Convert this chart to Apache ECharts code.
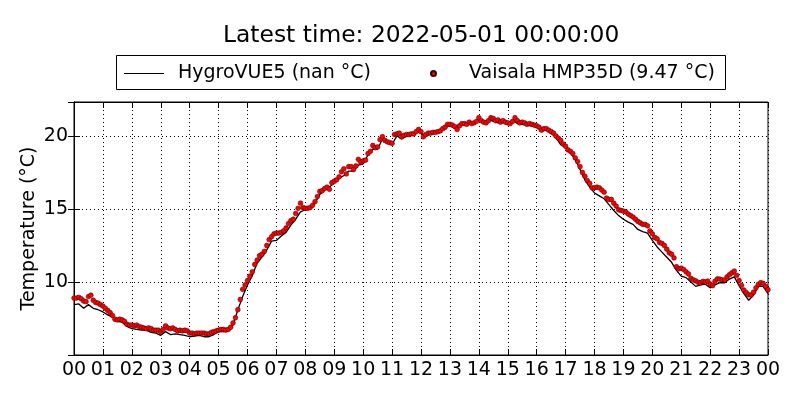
<!DOCTYPE html>
<html>
<head>
<meta charset="utf-8">
<script src="https://cdn.jsdelivr.net/npm/echarts@6/dist/echarts.min.js"></script>
<style>html,body{margin:0;padding:0;background:#fff}#c{width:800px;height:400px}</style>
</head>
<body>
<div id="c"></div>
<script>
// Vaisala HMP35D, one value every 5 minutes from 00:00 to 24:00
const vaisalaStepMin = 5;
const vaisalaTemps = [
 8.9, 8.9, 8.95, 8.85, 8.7, 8.65, 9.0, 9.1, 8.75, 8.6, 8.55, 8.45,
 8.35, 8.2, 8.05, 7.9, 7.7, 7.45, 7.4, 7.45, 7.4, 7.3, 7.1, 7.05,
 7.05, 7.0, 7.05, 6.95, 6.9, 6.85, 6.8, 6.85, 6.8, 6.7, 6.7, 6.7,
 6.6, 6.75, 7.0, 6.85, 6.8, 6.85, 6.75, 6.65, 6.7, 6.65, 6.7, 6.65,
 6.5, 6.5, 6.45, 6.5, 6.5, 6.5, 6.5, 6.45, 6.45, 6.55, 6.6, 6.65,
 6.7, 6.75, 6.75, 6.7, 6.75, 6.9, 7.2, 7.55, 8.1, 8.8, 9.5, 9.8,
 10.1, 10.4, 10.7, 11.2, 11.5, 11.8, 11.9, 12.1, 12.5, 12.9, 13.1, 13.3,
 13.35, 13.35, 13.4, 13.5, 13.7, 14.0, 14.2, 14.3, 14.7, 15.05, 15.4, 15.1,
 15.05, 15.05, 15.1, 15.25, 15.5, 15.85, 16.2, 16.25, 16.4, 16.5, 16.35, 16.8,
 16.9, 17.0, 17.2, 17.55, 17.75, 17.4, 17.9, 17.9, 17.7, 17.95, 18.4, 18.2,
 18.3, 18.35, 18.8, 18.95, 19.35, 19.2, 19.25, 19.75, 19.95, 19.7, 19.6, 19.55,
 19.5, 20.1, 20.15, 20.2, 19.95, 20.05, 20.1, 20.1, 20.15, 20.15, 20.3, 20.45,
 20.3, 19.95, 20.1, 20.2, 20.2, 20.25, 20.25, 20.3, 20.35, 20.5, 20.6, 20.8,
 20.8, 20.75, 20.65, 20.45, 20.7, 20.85, 20.85, 20.8, 20.95, 20.85, 20.9, 21.0,
 21.25, 21.05, 20.95, 20.9, 21.05, 21.25, 21.2, 21.05, 21.1, 20.95, 21.05, 20.95,
 20.9, 20.85, 21.0, 21.25, 21.05, 20.9, 20.95, 20.9, 20.8, 20.85, 20.8, 20.75,
 20.7, 20.6, 20.4, 20.5, 20.5, 20.4, 20.3, 20.2, 20.0, 19.85, 19.7, 19.45,
 19.3, 19.05, 18.95, 18.8, 18.5, 18.25, 17.9, 17.5, 17.25, 16.95, 16.75, 16.45,
 16.45, 16.5, 16.45, 16.3, 16.15, 15.75, 15.65, 15.65, 15.4, 15.2, 14.95, 14.9,
 14.85, 14.8, 14.65, 14.55, 14.45, 14.3, 14.15, 14.05, 13.95, 13.95, 13.85, 13.5,
 13.3, 13.05, 12.95, 12.7, 12.65, 12.5, 12.25, 12.0, 11.9, 11.65, 11.05, 10.9,
 10.95, 10.85, 10.7, 10.55, 10.25, 10.15, 10.08, 9.98, 9.95, 10.05, 10.0, 10.06,
 9.85, 9.75, 10.05, 10.22, 10.2, 10.15, 10.13, 10.35, 10.5, 10.62, 10.75, 10.45,
 10.1, 9.77, 9.45, 9.27, 9.12, 9.11, 9.3, 9.6, 9.84, 9.95, 9.9, 9.7,
 9.47
];
// HygroVUE5, one value every 10 minutes from 00:00 to 24:00
const hygroStepMin = 10;
const hygroTemps = [
 8.45, 8.5, 8.2, 8.45, 8.2, 8.1,
 7.95, 7.75, 7.6, 7.3, 7.25, 6.95,
 6.8, 6.75, 6.7, 6.7, 6.55, 6.5,
 6.35, 6.6, 6.4, 6.45, 6.4, 6.35,
 6.25, 6.3, 6.35, 6.25, 6.25, 6.4,
 6.6, 6.6, 6.65, 7.05, 8.1, 9.0,
 9.8, 10.45, 11.3, 11.7, 12.2, 12.8,
 12.85, 13.15, 13.4, 13.9, 14.3, 14.8,
 14.95, 15.0, 15.4, 16.0, 16.3, 16.5,
 16.8, 17.1, 17.3, 17.6, 17.6, 18.0,
 18.1, 18.7, 19.1, 19.1, 19.8, 19.5,
 19.45, 20.0, 19.8, 20.0, 20.05, 20.3,
 20.2, 20.0, 20.15, 20.2, 20.25, 20.7,
 20.7, 20.55, 20.8, 20.8, 20.85, 20.9,
 21.1, 20.85, 21.15, 21.0, 20.9, 20.95,
 20.8, 21.1, 20.85, 20.8, 20.75, 20.7,
 20.6, 20.4, 20.4, 20.2, 19.9, 19.4,
 19.25, 18.85, 18.4, 17.7, 17.0, 16.5,
 16.1, 15.9, 15.7, 15.3, 14.9, 14.55,
 14.3, 14.1, 13.95, 13.6, 13.45, 13.35,
 12.85, 12.4, 12.05, 11.7, 11.35, 10.8,
 10.4, 10.3, 10.0, 9.7, 9.8, 9.85,
 9.6, 9.8, 9.95, 9.95, 10.2, 10.35,
 9.75, 9.2, 8.75, 9.1, 9.7, 9.7,
 9.2
];
const hourLabels = ['00','01','02','03','04','05','06','07','08','09','10','11','12',
  '13','14','15','16','17','18','19','20','21','22','23','00'];
const yTickLabels = [10, 15, 20];
const nameHygro = 'HygroVUE5 (nan °C)';
const nameVaisala = 'Vaisala HMP35D (9.47 °C)';
const titleText = 'Latest time: 2022-05-01 00:00:00';

const hygroData = hygroTemps.map((v, i) => [i * hygroStepMin / 60, v]);
const vaisalaData = vaisalaTemps.map((v, i) => [i * vaisalaStepMin / 60, v]);

const FONT = 'DejaVu Sans';
const TICK = {show: true, inside: true, length: 6, lineStyle: {color: '#000', width: 1}};
const LINE = {show: true, lineStyle: {color: '#000', width: 1}};
const chart = echarts.init(document.getElementById('c'), null, {renderer: 'canvas'});
chart.setOption({
  animation: false,
  backgroundColor: '#fff',
  textStyle: {fontFamily: FONT, color: '#000'},
  title: {
    text: titleText, left: 223, top: 24, padding: 0,
    textStyle: {fontFamily: FONT, fontSize: 23.4, fontWeight: 'normal', color: '#000'}
  },
  graphic: [{
    type: 'rect', z: 0, silent: true,
    shape: {x: 116.5, y: 55.5, width: 609, height: 34},
    style: {fill: 'transparent', stroke: '#000', lineWidth: 1}
  }],
  legend: [{
    data: [{name: nameHygro, icon: 'path://M0 0H40V1H0Z'}], left: 124, top: 64, padding: 0,
    itemWidth: 40, itemHeight: 14, selectedMode: false,
    textStyle: {fontFamily: FONT, fontSize: 19, color: '#000', padding: [0, 0, 0, 9]}
  }, {
    data: [nameVaisala], left: 430, top: 64, padding: 0,
    itemWidth: 5, itemHeight: 5, selectedMode: false,
    textStyle: {fontFamily: FONT, fontSize: 19, color: '#000', padding: [0, 0, 0, 28]}
  }],
  grid: {left: 74, right: 32, top: 102, bottom: 45, show: true, borderColor: '#000', borderWidth: 1, containLabel: false},
  xAxis: [{
    type: 'value', min: 0, max: 24, interval: 1, position: 'bottom',
    axisLine: LINE, axisTick: TICK,
    axisLabel: {fontFamily: FONT, fontSize: 19, color: '#000', margin: 6,
      formatter: v => hourLabels[Math.round(v)] ?? ''},
    splitLine: {show: true, lineStyle: {color: '#000', width: 1, type: [1, 3]}}
  }, {
    type: 'value', min: 0, max: 24, interval: 1, position: 'top',
    axisLine: LINE, axisTick: TICK, axisLabel: {show: false}, splitLine: {show: false}
  }],
  yAxis: [{
    type: 'value', min: 5, max: 22.33, interval: 5, position: 'left',
    name: 'Temperature (°C)', nameLocation: 'middle', nameGap: 35, nameMoveOverlap: false,
    nameTextStyle: {fontFamily: FONT, fontSize: 19, color: '#000'},
    axisLine: LINE, axisTick: TICK,
    axisLabel: {fontFamily: FONT, fontSize: 19, color: '#000', margin: 6,
      formatter: v => yTickLabels.includes(Math.round(v * 100) / 100) ? String(v) : ''},
    splitLine: {show: true, lineStyle: {color: '#000', width: 1, type: [1, 3]}}
  }, {
    type: 'value', min: 5, max: 22.33, interval: 5, position: 'right',
    axisLine: LINE, axisTick: TICK, axisLabel: {show: false}, splitLine: {show: false}
  }],
  series: [{
    name: nameHygro, type: 'line', data: hygroData,
    symbol: 'none', showSymbol: false,
    lineStyle: {color: '#000', width: 1.3}, itemStyle: {color: '#000'}, z: 2
  }, {
    name: nameVaisala, type: 'scatter', data: vaisalaData,
    symbolSize: 4.8,
    itemStyle: {color: '#ff0000', borderColor: '#300', borderWidth: 0.5, opacity: 1}, z: 3
  }]
});
</script>
</body>
</html>
